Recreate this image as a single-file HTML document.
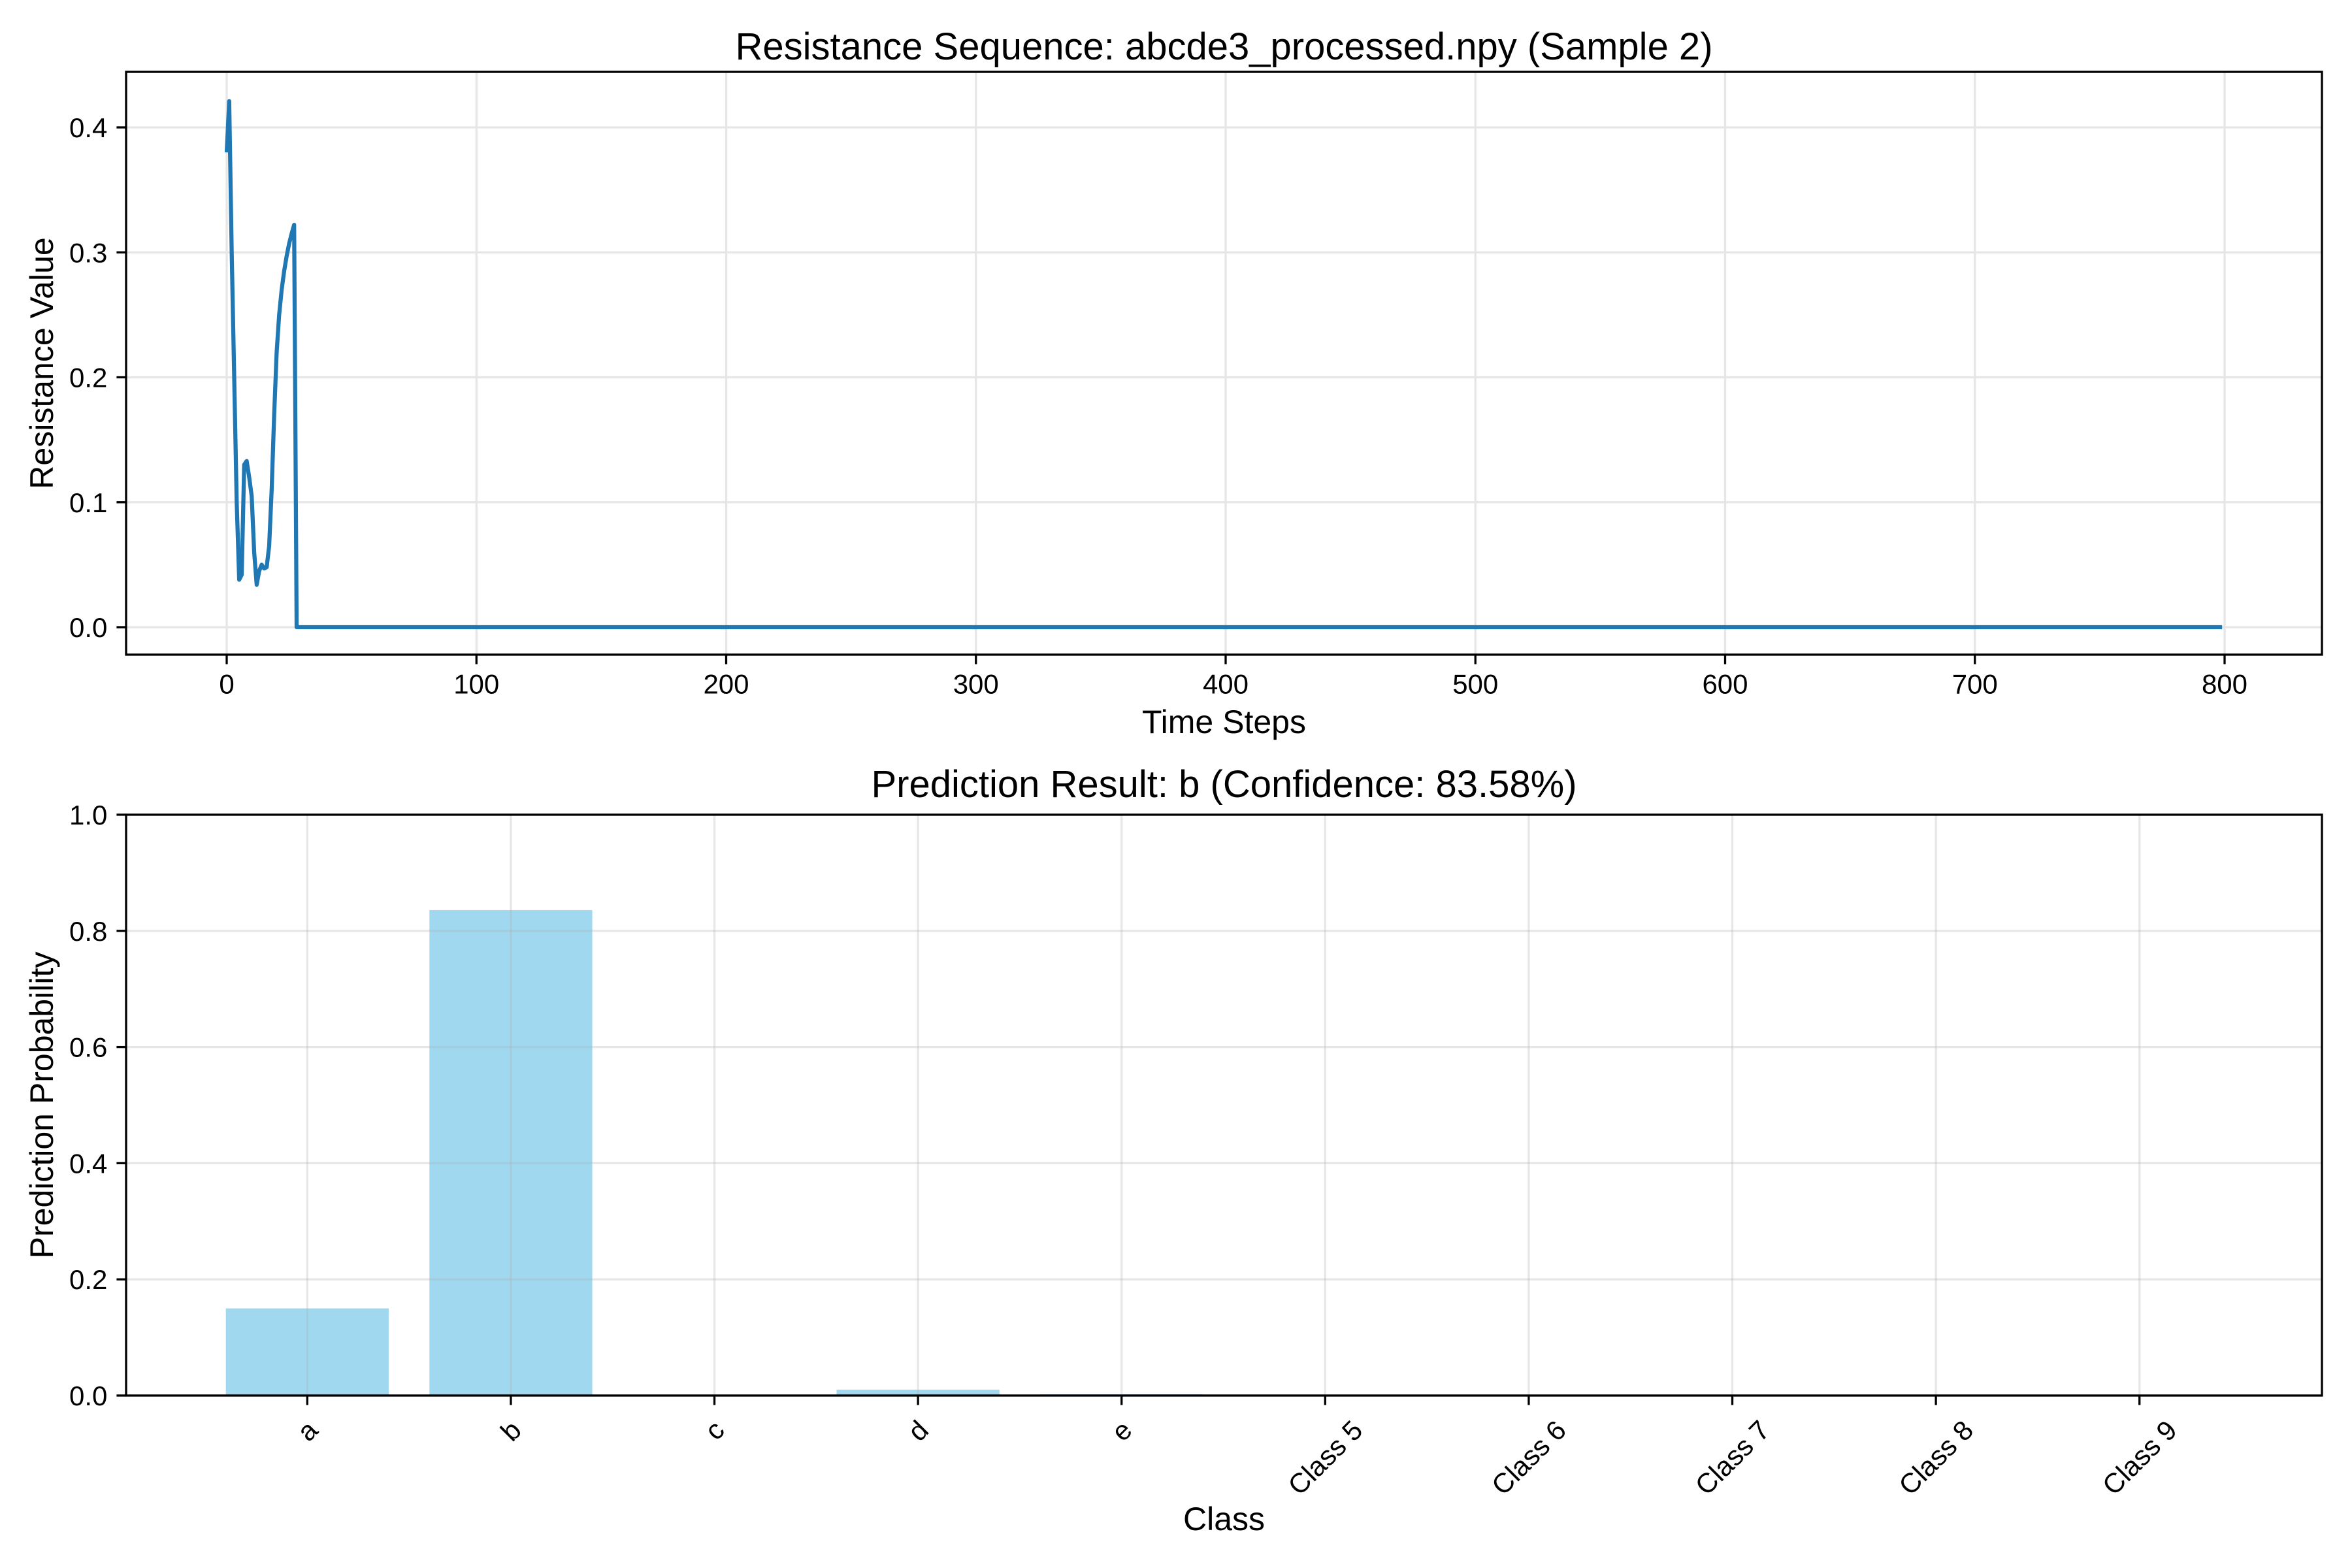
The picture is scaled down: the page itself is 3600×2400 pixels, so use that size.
<!DOCTYPE html>
<html><head><meta charset="utf-8"><style>
html,body{margin:0;padding:0;background:#fff;}
svg{display:block;font-family:"Liberation Sans",Arial,sans-serif;}
</style></head><body>
<svg id="fig" xmlns="http://www.w3.org/2000/svg" width="3600" height="2400" viewBox="0 0 3600 2400">
<rect width="3600" height="2400" fill="#fff"/>
<g id="topChart"></g>
<g id="botChart"></g>
</svg>
<script>
// ---- Top chart data ----
const seqHead = [0.38,0.421,0.30,0.20,0.10,0.038,0.042,0.13,0.133,0.12,0.105,0.06,0.034,0.045,0.05,0.047,0.048,0.065,0.11,0.17,0.22,0.25,0.27,0.285,0.297,0.307,0.315,0.322,0.0];
const seqLength = 800;
const seqTailValue = 0.0;
const xTicks = [0,100,200,300,400,500,600,700,800];
const yTicksTop = [0.0,0.1,0.2,0.3,0.4];
const yTickLabelsTop = ["0.0","0.1","0.2","0.3","0.4"];
// ---- Bottom chart data ----
const classes = ["a","b","c","d","e","Class 5","Class 6","Class 7","Class 8","Class 9"];
const probs = [0.150,0.8358,0.001,0.010,0.002,0,0,0,0,0];
const yTicksBot = [0.0,0.2,0.4,0.6,0.8,1.0];
const yTickLabelsBot = ["0.0","0.2","0.4","0.6","0.8","1.0"];

const NS="http://www.w3.org/2000/svg";
function mk(tag,attrs,parent){const e=document.createElementNS(NS,tag);for(const k in attrs)e.setAttribute(k,attrs[k]);parent.appendChild(e);return e;}
const GRID="#e6e6e6", LW=3.3, TICK=14.6, FT=42;

// ---- Top axes ----
const T={l:193,r:3554,t:110,b:1002};
const xT=v=>347+v*3.8225;
const yT=v=>960-v*1912.5;
const topG=document.getElementById('topChart');
xTicks.forEach(v=>{const g=mk('line',{x1:xT(v),x2:xT(v),y1:T.t,y2:T.b,stroke:GRID,'stroke-width':LW},topG);

});
yTicksTop.forEach(v=>{const g=mk('line',{x1:T.l,x2:T.r,y1:yT(v),y2:yT(v),stroke:GRID,'stroke-width':LW},topG);

});
const seq=[];for(let i=0;i<seqLength;i++)seq.push(i<seqHead.length?seqHead[i]:seqTailValue);
const pts=seq.map((v,i)=>xT(i).toFixed(2)+','+yT(v).toFixed(2)).join(' ');
const ln=mk('polyline',{points:pts,fill:'none',stroke:'#1f77b4','stroke-width':6.25,'stroke-linejoin':'round','stroke-linecap':'butt'},topG);


const f1=mk('rect',{x:T.l,y:T.t,width:T.r-T.l,height:T.b-T.t,fill:'none',stroke:'#000','stroke-width':LW},topG);


xTicks.forEach(v=>{mk('line',{x1:xT(v),x2:xT(v),y1:T.b,y2:T.b+TICK,stroke:'#000','stroke-width':LW},topG);
const t=mk('text',{x:xT(v),y:T.b+TICK+14+31,'font-size':FT,'text-anchor':'middle'},topG);t.textContent=v;

});
yTicksTop.forEach((v,i)=>{mk('line',{x1:T.l-TICK,x2:T.l,y1:yT(v),y2:yT(v),stroke:'#000','stroke-width':LW},topG);
const t=mk('text',{x:T.l-TICK-14,y:yT(v)+15,'font-size':FT,'text-anchor':'end'},topG);t.textContent=yTickLabelsTop[i];

});
let e=mk('text',{x:(T.l+T.r)/2,y:91,'font-size':58,'text-anchor':'middle'},topG);e.textContent='Resistance Sequence: abcde3_processed.npy (Sample 2)';


e=mk('text',{x:(T.l+T.r)/2,y:1122,'font-size':50,'text-anchor':'middle'},topG);e.textContent='Time Steps';


e=mk('text',{x:0,y:0,'font-size':50,'text-anchor':'middle',transform:`translate(81,${(T.t+T.b)/2}) rotate(-90)`},topG);e.textContent='Resistance Value';



// ---- Bottom axes ----
const B={l:193,r:3554,t:1247,b:2136};
const xB=i=>193+(i+0.89)*311.6;
const yB=v=>2136-v*889;
const botG=document.getElementById('botChart');
probs.forEach((p,i)=>{const r=mk('rect',{x:xB(i)-0.4*311.6,y:yB(p),width:0.8*311.6,height:2136-yB(p),fill:'#9fd8ef'},botG);

});
classes.forEach((c,i)=>{const g=mk('line',{x1:xB(i),x2:xB(i),y1:B.t,y2:B.b,stroke:'#b0b0b0','stroke-opacity':0.3,'stroke-width':LW},botG);

});
yTicksBot.forEach(v=>{const g=mk('line',{x1:B.l,x2:B.r,y1:yB(v),y2:yB(v),stroke:'#b0b0b0','stroke-opacity':0.3,'stroke-width':LW},botG);

});
const f2=mk('rect',{x:B.l,y:B.t,width:B.r-B.l,height:B.b-B.t,fill:'none',stroke:'#000','stroke-width':LW},botG);


classes.forEach((c,i)=>{mk('line',{x1:xB(i),x2:xB(i),y1:B.b,y2:B.b+TICK,stroke:'#000','stroke-width':LW},botG);
const t=mk('text',{x:0,y:0,'font-size':FT,'text-anchor':'middle','dominant-baseline':'central'},botG);t.textContent=c;


let w=c.length*22;
try{const m=t.getComputedTextLength();if(m>0)w=m;}catch(err){}
const h=48;
const cy=B.b+TICK+14+(w+h)*0.3536;
t.setAttribute('transform',`translate(${xB(i)},${cy}) rotate(-45)`);});
yTicksBot.forEach((v,i)=>{mk('line',{x1:B.l-TICK,x2:B.l,y1:yB(v),y2:yB(v),stroke:'#000','stroke-width':LW},botG);
const t=mk('text',{x:B.l-TICK-14,y:yB(v)+15,'font-size':FT,'text-anchor':'end'},botG);t.textContent=yTickLabelsBot[i];

});
e=mk('text',{x:(B.l+B.r)/2,y:1220,'font-size':58,'text-anchor':'middle'},botG);e.textContent='Prediction Result: b (Confidence: 83.58%)';


e=mk('text',{x:(B.l+B.r)/2,y:2342,'font-size':50,'text-anchor':'middle'},botG);e.textContent='Class';


e=mk('text',{x:0,y:0,'font-size':50,'text-anchor':'middle',transform:`translate(81,${(B.t+B.b)/2}) rotate(-90)`},botG);e.textContent='Prediction Probability';


</script>
</body></html>
